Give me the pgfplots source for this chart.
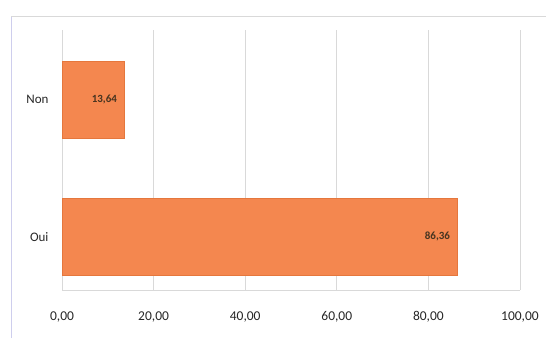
\documentclass[border=0pt]{standalone}
\usepackage{pgfplots}
\pgfplotsset{compat=1.18}
\usepackage{fontspec}
\setmainfont{Carlito}
\definecolor{barorange}{HTML}{F4874F}
\definecolor{barline}{HTML}{E5773D}
\definecolor{gridgray}{HTML}{D9D9D9}
\definecolor{labelgray}{HTML}{262626}
\begin{document}
\begin{tikzpicture}[x=1pt,y=1pt]
\useasboundingbox (0,0) rectangle (546,338);
% chart frame
\draw[color=gridgray!80!blue!60, line width=0.8pt] (11,0) -- (11,322);
\draw[color=gridgray, line width=0.8pt] (11,322) -- (546,322);
\begin{axis}[
  at={(62pt,48pt)}, anchor=south west,
  scale only axis,
  width=458pt, height=260pt,
  xbar, bar width=77pt,
  xmin=0, xmax=100,
  ymin=-0.39, ymax=1.51,
  xtick={0,20,40,60,80,100},
  ytick={0,1},
  yticklabels={Oui,Non},
  xmajorgrids,
  grid style={gridgray, line width=0.8pt},
  axis x line*=bottom,
  axis y line*=left,
  x axis line style={gridgray, line width=0.8pt, -},
  y axis line style={gridgray, line width=0.8pt, -},
  major tick length=0pt,
  tick style={draw=none},
  /pgf/number format/.cd, fixed, fixed zerofill, precision=2, use comma, assume math mode=true,
  /pgfplots/.cd,
  xticklabel style={font=\fontsize{13.5}{15}\selectfont, text=labelgray, yshift=-18pt},
  yticklabel style={font=\fontsize{13}{15}\selectfont, text=labelgray, xshift=-10pt},
  nodes near coords,
  nodes near coords style={font=\fontsize{11}{13}\selectfont\bfseries, text=labelgray!85!orange, anchor=east, xshift=-4pt},
  point meta=explicit symbolic,
]
\addplot[fill=barorange, draw=barline] coordinates {
  (86.36,0) [86,36]
  (13.64,1) [13,64]
};
\end{axis}
\end{tikzpicture}
\end{document}
